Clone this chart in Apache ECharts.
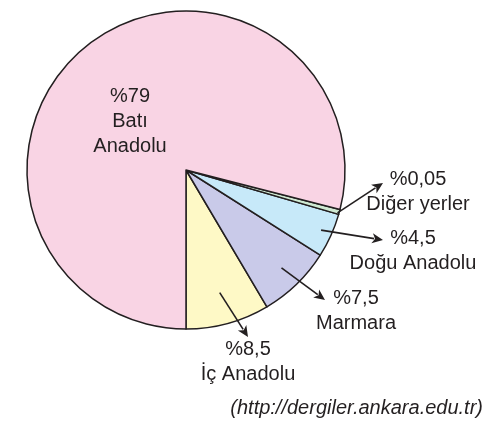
<!DOCTYPE html>
<html>
<head>
<meta charset="utf-8">
<script src="https://cdn.jsdelivr.net/npm/echarts@6/dist/echarts.min.js"></script>
<style>
html,body{margin:0;padding:0;background:#fff;}
#chart{width:497px;height:424px;}
</style>
</head>
<body>
<div id="chart"></div>
<script>
// ---- data ----
const categories = ['İç Anadolu', 'Marmara', 'Doğu Anadolu', 'Diğer yerler', 'Batı Anadolu'];
const values = [8.5, 7.5, 4.5, 0.05, 79];
const percentLabels = ['%8,5', '%7,5', '%4,5', '%0,05', '%79'];
const nameLabels = ['İç Anadolu', 'Marmara', 'Doğu Anadolu', 'Diğer yerler', 'Batı\nAnadolu'];
const sourceText = '(http://dergiler.ankara.edu.tr)';

// ---- styles / layout ----
const colors = ['#fef9c6', '#c9cae9', '#c7e9f9', '#cfe9d2', '#f9d4e4'];
const CX = 186, CY = 170, R = 159;
const FONT = '20px "Liberation Sans", Arial, sans-serif';
const INK = '#231f20';
// label anchor (centre of text block), arrow start as fraction of radius, arrow end
const labelLayout = [
  { tx: 248, ty: 362, startR: 0.80, ex: 248, ey: 337 },
  { tx: 356, ty: 311, startR: 0.86, ex: 325, ey: 300 },
  { tx: 413, ty: 251, startR: 0.93, ex: 383, ey: 240 },
  { tx: 418, ty: 192, startR: 0.99, ex: 383, ey: 183 },
  { tx: 130, ty: 121, startR: null }
];

const chart = echarts.init(document.getElementById('chart'), null, { renderer: 'canvas' });

const total = values.reduce((a, b) => a + b, 0);
const graphics = [];
let cum = 0;
values.forEach((v, i) => {
  const mid = (cum + v / 2) / total * 2 * Math.PI; // measured from downward, going toward right
  cum += v;
  const L = labelLayout[i];
  graphics.push({
    type: 'text', z: 100,
    style: {
      text: percentLabels[i] + '\n' + nameLabels[i],
      x: L.tx, y: L.ty, align: 'center', verticalAlign: 'middle',
      font: FONT, fill: INK, lineHeight: 25
    }
  });
  if (L.startR !== null) {
    const sx = CX + R * L.startR * Math.sin(mid);
    const sy = CY + R * L.startR * Math.cos(mid);
    const dx = L.ex - sx, dy = L.ey - sy;
    const len = Math.sqrt(dx * dx + dy * dy);
    const ux = dx / len, uy = dy / len;
    const hl = 11, hw = 5;
    const bx = L.ex - ux * hl, by = L.ey - uy * hl;
    graphics.push({
      type: 'line', z: 100,
      shape: { x1: sx, y1: sy, x2: bx + ux * 2, y2: by + uy * 2 },
      style: { stroke: INK, lineWidth: 1.6 }
    });
    graphics.push({
      type: 'polygon', z: 100,
      shape: { points: [[L.ex, L.ey], [bx - uy * hw, by + ux * hw], [bx + ux * 3, by + uy * 3], [bx + uy * hw, by - ux * hw]] },
      style: { fill: INK }
    });
  }
});
graphics.push({
  type: 'text', z: 100,
  style: {
    text: sourceText, x: 483, y: 408, align: 'right', verticalAlign: 'middle',
    font: 'italic 20px "Liberation Sans", Arial, sans-serif', fill: INK
  }
});

chart.setOption({
  animation: false,
  backgroundColor: '#ffffff',
  graphic: graphics,
  series: [{
    type: 'pie',
    center: [CX, CY],
    radius: R,
    startAngle: 270,
    clockwise: false,
    minAngle: 1.8,
    silent: true,
    label: { show: false },
    labelLine: { show: false },
    emphasis: { disabled: true },
    itemStyle: { borderColor: INK, borderWidth: 1.5 },
    data: categories.map((c, i) => ({ name: c, value: values[i], itemStyle: { color: colors[i] } }))
  }]
});
</script>
</body>
</html>
